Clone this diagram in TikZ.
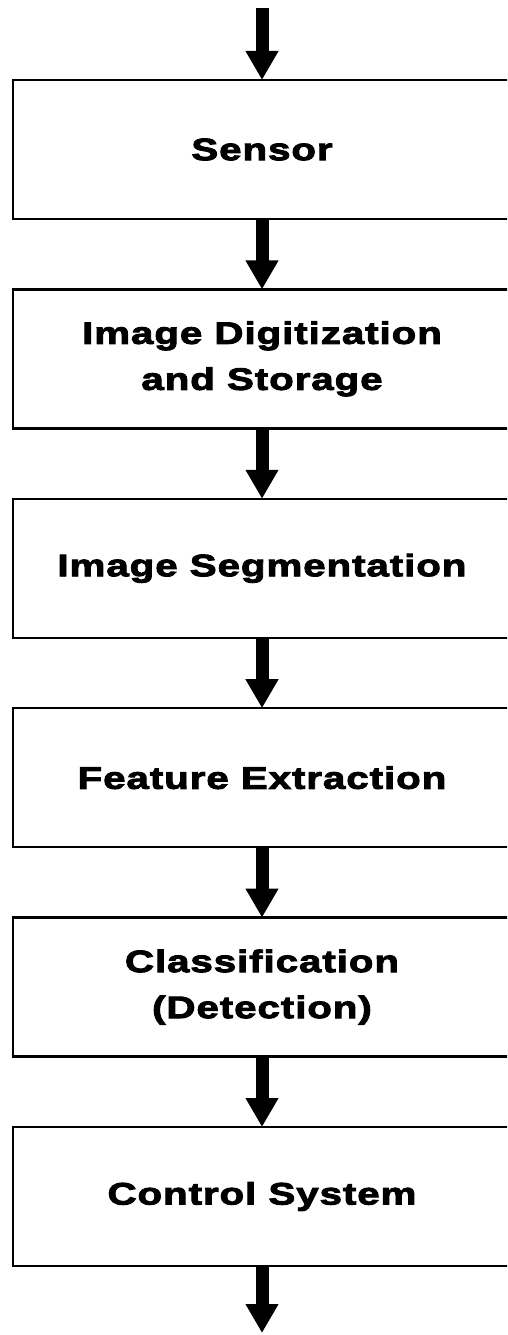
\documentclass[tikz,border=0pt]{standalone}
\usepackage{fontspec}
\setmainfont{Liberation Sans}[FakeStretch=1.3,LetterSpace=3,FakeBold=3]
\usepackage{tikz}
\usetikzlibrary{arrows.meta,positioning}
\tikzset{
  box/.style={draw=black, line width=2.5pt, fill=white, text=black, align=center,
              font=\bfseries\fontsize{31}{46}\selectfont, minimum width=498pt,
              minimum height=139pt, outer sep=0pt, inner sep=0pt},
  node distance=70.4pt,
  flow/.style={-{Triangle[length=29pt, width=31pt]}, line width=13pt, draw=black},
}
\begin{document}
\begin{tikzpicture}[x=1pt, y=1pt]
\useasboundingbox (0,0) rectangle (507,-1335);
\clip (0,0) rectangle (507,-1335);
\node[box] (sensor) at (262,-149.5) {Sensor};
\node[box, below=of sensor] (digit) {Image Digitization\\and Storage};
\node[box, below=of digit] (segm) {Image Segmentation};
\node[box, below=of segm] (feat) {Feature Extraction};
\node[box, below=of feat] (classif) {Classification\\(Detection)};
\node[box, below=of classif] (ctrl) {Control System};
\coordinate (in) at (262,-8);
\coordinate (out) at (262,-1333);
\draw[flow] (in) -- (sensor); \draw[flow] (sensor) -- (digit);
\draw[flow] (digit) -- (segm); \draw[flow] (segm) -- (feat);
\draw[flow] (feat) -- (classif); \draw[flow] (classif) -- (ctrl);
\draw[flow] (ctrl) -- (out);
\end{tikzpicture}
\end{document}
